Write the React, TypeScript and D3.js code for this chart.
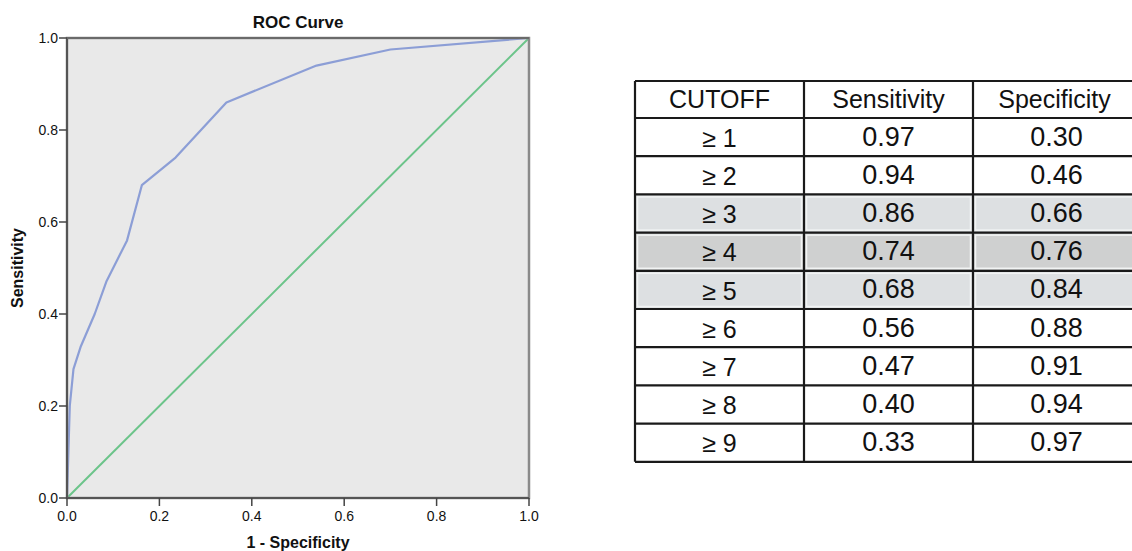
import React from "react";
import * as d3 from "d3";

const fpr = [0, 0.006, 0.014, 0.03, 0.06, 0.085, 0.13, 0.162, 0.235, 0.345, 0.54, 0.70, 1.0];
const tpr = [0, 0.2, 0.28, 0.33, 0.40, 0.47, 0.56, 0.68, 0.74, 0.86, 0.94, 0.975, 1.0];
const ticks = [0, 0.2, 0.4, 0.6, 0.8, 1.0];

const headers = ["CUTOFF", "Sensitivity", "Specificity"];
const cutoffs = ["≥ 1", "≥ 2", "≥ 3", "≥ 4", "≥ 5", "≥ 6", "≥ 7", "≥ 8", "≥ 9"];
const sensitivity = ["0.97", "0.94", "0.86", "0.74", "0.68", "0.56", "0.47", "0.40", "0.33"];
const specificity = ["0.30", "0.46", "0.66", "0.76", "0.84", "0.88", "0.91", "0.94", "0.97"];
const rowShade = ["#ffffff", "#ffffff", "#dde0e2", "#cfd0d0", "#dde0e2", "#ffffff", "#ffffff", "#ffffff", "#ffffff"];

const font = "'Liberation Sans', Arial, Helvetica, sans-serif";

export default function App() {
  const W = 1132, H = 551;
  const L = 67, R = 529, T = 38, B = 498;
  const x = d3.scaleLinear().domain([0, 1]).range([L, R]);
  const y = d3.scaleLinear().domain([0, 1]).range([B, T]);
  const pts: [number, number][] = fpr.map((f, i) => [f, tpr[i]]);
  const line = d3.line<[number, number]>().x(d => x(d[0])).y(d => y(d[1]));

  const tL = 635, tT = 81, headH = 37, rowH = 38.2;
  const colX = [635, 804, 973, 1140];
  const rowsY = (i: number) => tT + headH + i * rowH;
  const tB = rowsY(cutoffs.length);

  return (
    <svg width={W} height={H} style={{ position: "absolute", left: 0, top: 0, background: "#fff" }} fontFamily={font}>
      <rect x={0} y={0} width={W} height={H} fill="#fff" />
      {/* plot */}
      <rect x={L} y={T} width={R - L} height={B - T} fill="#e9e9e9" />
      <path d={line([[0, 0], [1, 1]]) || ""} fill="none" stroke="#6cc48a" strokeWidth={2} />
      <path d={line(pts) || ""} fill="none" stroke="#8c9ed6" strokeWidth={2.2} strokeLinejoin="round" />
      <rect x={L} y={T} width={R - L} height={B - T} fill="none" stroke="#8a8a8a" strokeWidth={2.5} />
      <line x1={L} x2={L} y1={T} y2={B} stroke="#555" strokeWidth={2} />
      <line x1={L} x2={R} y1={B} y2={B} stroke="#555" strokeWidth={2} />
      <line x1={L} x2={R} y1={T} y2={T} stroke="#6a6a6a" strokeWidth={2} />
      {ticks.map(t => (
        <g key={"y" + t}>
          <line x1={L - 8} x2={L} y1={y(t)} y2={y(t)} stroke="#444" strokeWidth={1.5} />
          <text x={L - 9} y={y(t)} dy="0.35em" textAnchor="end" fontSize={14} fill="#111">{d3.format(".1f")(t)}</text>
        </g>
      ))}
      {ticks.map(t => (
        <g key={"x" + t}>
          <line x1={x(t)} x2={x(t)} y1={B} y2={B + 8} stroke="#444" strokeWidth={1.5} />
          <text x={x(t)} y={B + 23} textAnchor="middle" fontSize={14} fill="#111">{d3.format(".1f")(t)}</text>
        </g>
      ))}
      <text x={(L + R) / 2} y={28} textAnchor="middle" fontSize={17} fontWeight="bold" fill="#111">ROC Curve</text>
      <text x={(L + R) / 2} y={548} textAnchor="middle" fontSize={16} fontWeight="bold" fill="#111">1 - Specificity</text>
      <text transform={`translate(23,${(T + B) / 2}) rotate(-90)`} textAnchor="middle" fontSize={16} fontWeight="bold" fill="#111">Sensitivity</text>

      {/* table */}
      <rect x={tL} y={tT} width={colX[3] - tL} height={headH} fill="#fff" />
      {cutoffs.map((c, i) => (
        <g key={c}>
          <rect x={tL} y={rowsY(i)} width={colX[3] - tL} height={rowH} fill={rowShade[i]} />
          {rowShade[i] !== "#ffffff" && colX.slice(0, 3).map((cx, j) => (
            <rect key={j} x={cx + 2.5} y={rowsY(i) + 2.5} width={colX[j + 1] - cx - 5} height={rowH - 5} fill="none" stroke="#f2f4f4" strokeWidth={1.5} />
          ))}
        </g>
      ))}
      {headers.map((h, j) => (
        <text key={h} x={(colX[j] + colX[j + 1]) / 2 - (j === 2 ? 2 : 0)} y={tT + headH / 2} dy="0.35em" textAnchor="middle" fontSize={25} fill="#111">{h}</text>
      ))}
      {cutoffs.map((c, i) => {
        const cy = rowsY(i) + rowH / 2 + 1;
        return (
          <g key={"t" + c}>
            <text x={(colX[0] + colX[1]) / 2} y={cy} dy="0.35em" textAnchor="middle" fontSize={25} fill="#111">{c}</text>
            <text x={(colX[1] + colX[2]) / 2} y={cy - 2} dy="0.35em" textAnchor="middle" fontSize={27} fill="#111">{sensitivity[i]}</text>
            <text x={(colX[2] + colX[3]) / 2} y={cy - 2} dy="0.35em" textAnchor="middle" fontSize={27} fill="#111">{specificity[i]}</text>
          </g>
        );
      })}
      {d3.range(cutoffs.length + 2).map(i => {
        const yy = i === 0 ? tT : rowsY(i - 1);
        return <line key={"h" + i} x1={tL} x2={W} y1={yy} y2={yy} stroke="#1a1a1a" strokeWidth={2.2} />;
      })}
      {colX.slice(0, 3).map((cx, j) => (
        <line key={"v" + j} x1={cx} x2={cx} y1={tT} y2={tB} stroke="#1a1a1a" strokeWidth={2.2} />
      ))}
    </svg>
  );
}
